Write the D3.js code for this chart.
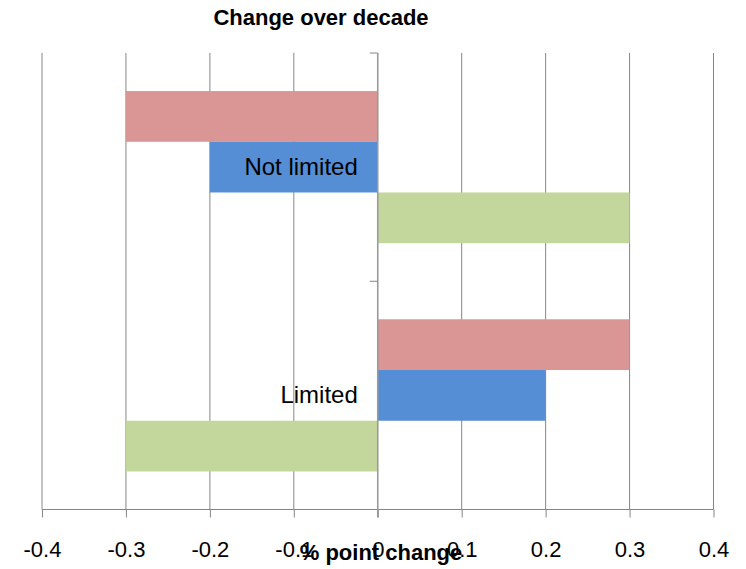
<!DOCTYPE html>
<meta charset="utf-8">
<style>
body {
  margin: 0;
  background-color: #fff;
}
text {
  font-family: "Liberation Sans", Arial, sans-serif;
  fill: #000;
}
.title {
  font-weight: bold;
  font-size: 22px;
}
.tick text {
  font-size: 22px;
}
.cat {
  font-size: 24px;
}
</style>
<body>
<div id="chart"></div>
<script src="https://d3js.org/d3.v7.min.js"></script>
<script>

// categories, top to bottom
var categories = ["Not limited", "Limited"];

// series, in bar order inside each category
var seriesNames = ["red", "blue", "green"];
var redValues = [-0.3, 0.3];
var blueValues = [-0.2, 0.2];
var greenValues = [0.3, -0.3];

var xTicks = [-0.4, -0.3, -0.2, -0.1, 0, 0.1, 0.2, 0.3, 0.4];

var colors = {red: "#d99694", blue: "#558ed5", green: "#c3d69b"};

var width = 746,
    height = 569;

var plot = {left: 42, right: 713.5, top: 53, bottom: 509.5};

// plain hyphen for negatives, like the original
var locale = d3.formatLocale({decimal: ".", thousands: ",", grouping: [3], currency: ["", ""], minus: "-"});
var fmt = locale.format(".1f");

var svg = d3.select("#chart")
  .append("svg")
  .attr("width", width)
  .attr("height", height);

var x = d3.scaleLinear()
  .domain([-0.4, 0.4])
  .range([plot.left, plot.right]);

var y = d3.scaleBand()
  .domain(categories)
  .range([plot.top, plot.bottom])
  .paddingInner(1 / 3)
  .paddingOuter(1 / 6);

var ySub = d3.scaleBand()
  .domain(seriesNames)
  .range([0, y.bandwidth()]);

// rows for drawing
var valuesBySeries = {red: redValues, blue: blueValues, green: greenValues};
var rows = [];
categories.forEach(function(c, i) {
  seriesNames.forEach(function(s) {
    rows.push({cat: c, series: s, value: valuesBySeries[s][i]});
  });
});

// vertical gridlines
svg.append("g")
  .selectAll("line")
  .data(xTicks.filter(function(d) { return d !== 0; }))
  .enter().append("line")
    .attr("x1", function(d) { return x(d); })
    .attr("x2", function(d) { return x(d); })
    .attr("y1", plot.top)
    .attr("y2", plot.bottom)
    .style("stroke", "#868686")
    .style("stroke-width", 1);

// bars
svg.append("g")
  .selectAll("rect")
  .data(rows)
  .enter().append("rect")
    .attr("x", function(d) { return x(Math.min(0, d.value)); })
    .attr("width", function(d) { return Math.abs(x(d.value) - x(0)); })
    .attr("y", function(d) { return y(d.cat) + ySub(d.series); })
    .attr("height", ySub.bandwidth())
    .style("fill", function(d) { return colors[d.series]; });

// bottom value axis
var xAxis = d3.axisBottom(x)
  .tickValues(xTicks)
  .tickSize(8)
  .tickFormat(function(d) { return d === 0 ? "0" : fmt(d); });

var gx = svg.append("g")
  .attr("transform", "translate(0," + plot.bottom + ")")
  .call(xAxis);
gx.select(".domain").remove();
gx.selectAll(".tick line")
  .style("stroke", "#868686");
gx.selectAll(".tick text")
  .attr("dy", null)
  .attr("y", 47.5)
  .attr("font-family", null)
  .attr("font-size", null);
gx.append("line")
  .attr("x1", plot.left)
  .attr("x2", plot.right)
  .style("stroke", "#868686");

// category axis at zero
svg.append("line")
  .attr("x1", x(0))
  .attr("x2", x(0))
  .attr("y1", plot.top)
  .attr("y2", plot.bottom + 8)
  .style("stroke", "#9a9a9a")
  .style("stroke-width", 1.6);

var bounds = [plot.top].concat(categories.map(function(c) {
  return y(c) + y.bandwidth() + y.step() * y.paddingInner() / 2;
}));
svg.append("g")
  .selectAll("line")
  .data(bounds.slice(0, -1))
  .enter().append("line")
    .attr("x1", x(0) - 8)
    .attr("x2", x(0))
    .attr("y1", function(d) { return d; })
    .attr("y2", function(d) { return d; })
    .style("stroke", "#868686");

// category labels
svg.append("g")
  .selectAll("text")
  .data(categories)
  .enter().append("text")
    .attr("class", "cat")
    .attr("x", x(0) - 20)
    .attr("y", function(d) { return y(d) + y.bandwidth() / 2 + 8; })
    .attr("text-anchor", "end")
    .text(function(d) { return d; });

// titles
svg.append("text")
  .attr("class", "title")
  .attr("x", 321)
  .attr("y", 25)
  .attr("text-anchor", "middle")
  .text("Change over decade");

svg.append("text")
  .attr("class", "title")
  .attr("x", 381)
  .attr("y", 560)
  .attr("text-anchor", "middle")
  .text("% point change");

</script>
</body>
